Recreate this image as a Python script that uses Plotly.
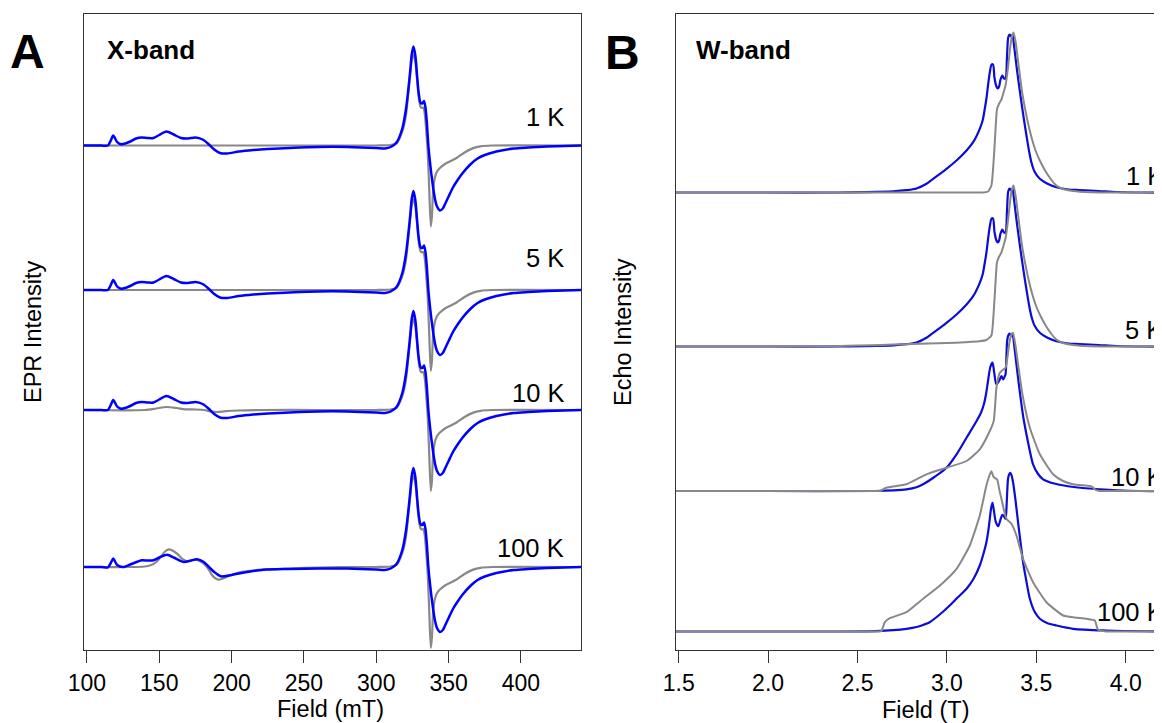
import plotly.graph_objects as go

W, H = 1162, 723
FONT = "Liberation Sans, Arial, Helvetica, sans-serif"
PAGE_OFFSET = 8  # browser body margin

TEMPS = ["1 K", "5 K", "10 K", "100 K"]

# ---------------- Panel A: X-band (field in mT, intensity a.u.) ----------------
XB_OFFSETS = [504.5, 360, 240, 83]

# experimental, low-field part (1 K, 5 K, 10 K)
XEXP_LO_FIELD = [98, 100, 110, 114.5, 116.5, 118.2, 120.9, 123, 125, 130, 134, 138, 142, 146, 150, 155, 160,
                 165, 170, 175, 180, 184, 188, 192, 197, 205, 215, 225, 240, 260, 280, 300, 306]
XEXP_LO_INT = [0, 0, 0, 0, 5, 10, 3.5, 1.5, 1.5, 4, 7, 8, 7.5, 7.5, 10.5, 14, 11,
               7.5, 7, 8, 6, 1.5, -4, -7.5, -8, -6, -4.5, -3.5, -2.5, -1.5, -1.5, -2.5, -3]
# experimental, low-field part (100 K)
XEXP100_LO_FIELD = [98, 110, 114.5, 116.5, 118.2, 120.9, 125, 130, 138, 142, 146, 150, 155.4, 160, 164, 167,
                    172, 176.2, 180.8, 184, 188, 192.6, 198, 204, 215, 222, 240, 260, 280, 300, 306]
XEXP100_LO_INT = [0, 0, -0.5, 4, 8.4, 2, 0, 2.5, 6.7, 6.5, 6.7, 9.5, 12.3, 9.5, 6.5, 5,
                  6.5, 7.7, 5, 0.5, -5, -9.3, -8.5, -6.7, -4, -2.7, -2, -1.5, -1.5, -2.5, -3]
# experimental, g~2 region (all temperatures)
XEXP_HI_FIELD = [310, 314, 318, 320.5, 322, 323.5, 324.5, 325.7, 327, 328.2, 329.2, 330.5, 331.8, 333, 334,
                 335, 336, 337, 338.1, 340.5, 342, 344, 346, 347.4, 350, 353, 356, 360, 365, 370, 375, 383,
                 395, 405, 418, 430, 441.5]
XEXP_HI_INT = [-1.5, 3, 17, 36, 54, 75, 91, 99, 90, 70, 54, 43, 42, 44.5, 38,
               22, 0, -15, -29, -53, -61, -65, -63, -59, -51, -42, -35, -27, -19, -13, -9.5, -6,
               -3, -2, -1, -0.5, 0]

# simulation, low-field parts
XSIM_FLAT_LO_FIELD = [98, 200, 290]
XSIM_FLAT_LO_INT = [0, 0, 0]
XSIM10_LO_FIELD = [98, 140, 148, 155, 162, 168, 175, 181, 186, 190, 196, 205, 222, 260, 290]
XSIM10_LO_INT = [0, 0, 1.5, 3, 2, 0.7, 0.5, 0, -1.5, -2, -1.2, -0.5, 0, 0, 0]
XSIM100_LO_FIELD = [98, 130, 140, 144, 148, 151, 154, 156.6, 159, 162.3, 166, 169.3, 172, 175, 178, 180.8,
                    184, 186.6, 189, 191.2, 194, 199.3, 205, 215, 222, 240, 260, 290]
XSIM100_LO_INT = [0, 0, 0.5, 1.7, 5, 10, 15.5, 17.6, 16.5, 13.3, 8, 5.7, 6.5, 7.7, 6, 3.3,
                  -2, -8.3, -11.5, -12.7, -11.5, -8.3, -5.5, -3.5, -2.7, -1.5, -0.5, 0]
# simulation, g~2 region
XSIM_HI_FIELD = [300, 310, 314, 318, 320.5, 322, 323.5, 324.5, 325.7, 327, 328.2, 329.2, 330.5, 331.5, 332.5,
                 333.5, 334.5, 335.5, 336.5, 337.7, 338.5, 339.3, 340.5, 342, 344, 348, 355.5, 361, 367, 372,
                 380, 441.5]
XSIM_HI_INT = [0, 0.5, 2, 14, 30, 50, 72, 85, 91, 84, 66, 50, 39, 37.5, 38,
               32, 15, -5, -40, -81, -70, -45, -32, -26, -22.5, -18, -12.5, -7, -2.6, -0.8,
               0, 0]

XEXP_LO = [(XEXP_LO_FIELD, XEXP_LO_INT)] * 3 + [(XEXP100_LO_FIELD, XEXP100_LO_INT)]
XSIM_LO = [(XSIM_FLAT_LO_FIELD, XSIM_FLAT_LO_INT)] * 2 + [(XSIM10_LO_FIELD, XSIM10_LO_INT),
                                                          (XSIM100_LO_FIELD, XSIM100_LO_INT)]

# ---------------- Panel B: W-band (field in T, echo intensity a.u.) ----------------
WB_OFFSETS = [457.5, 303.5, 159, 18.5]

WEXP1_FIELD = [1.485, 2.0, 2.4, 2.55, 2.7, 2.774, 2.83, 2.886, 2.923, 2.961, 2.998, 3.054, 3.110, 3.147, 3.184,
               3.200, 3.212, 3.222, 3.230, 3.240, 3.250, 3.258, 3.266, 3.277, 3.285, 3.292, 3.300, 3.310, 3.320,
               3.328, 3.336, 3.343, 3.350, 3.360, 3.367, 3.375, 3.389, 3.403, 3.417, 3.431, 3.445, 3.459, 3.473,
               3.49, 3.52, 3.56, 3.613, 3.68, 3.743, 3.85, 3.95, 4.1, 4.25]
WEXP1_INT = [0, 0, 0, 0.4, 1.2, 2.3, 4, 8.7, 13.7, 18.7, 23.7, 32, 42, 50.3, 63.7,
             72, 83.7, 95, 107, 120, 128, 128, 115, 106, 104, 106, 113, 117, 114,
             114, 135, 155, 158, 156, 158, 148, 127, 108, 90, 73, 57, 42, 30,
             21, 13.7, 9, 5.3, 3, 2.5, 1.5, 0.5, 0, 0]

WSIM1_FIELD = [1.485, 2.5, 3.0, 3.15, 3.20, 3.23, 3.249, 3.262, 3.273, 3.280, 3.292, 3.305, 3.317, 3.329, 3.340,
               3.351, 3.362, 3.373, 3.385, 3.397, 3.409, 3.421, 3.437, 3.453, 3.475, 3.5, 3.528, 3.556, 3.585,
               3.612, 3.65, 3.705, 3.8, 4.0, 4.25]
WSIM1_INT = [0, 0, 0, 0, 0, 1, 7, 33, 66, 83, 89, 93, 100, 108, 122,
             140, 155, 160, 150, 133, 116, 100, 84, 70, 54, 40, 29, 20, 12.5,
             7, 3.5, 1.5, 0.3, 0, 0]

WSIM5_FIELD = [1.485, 2.2, 2.4, 2.6, 2.8, 3.0, 3.1, 3.18, 3.221, 3.249, 3.262, 3.273, 3.280, 3.292, 3.305, 3.317,
               3.329, 3.340, 3.351, 3.362, 3.373, 3.385, 3.397, 3.409, 3.421, 3.437, 3.453, 3.475, 3.5, 3.528,
               3.556, 3.585, 3.612, 3.65, 3.705, 3.8, 4.0, 4.25]
WSIM5_INT = [0, 0, 0.5, 1.3, 2.5, 3.5, 4.3, 5.2, 6.5, 11, 35, 67, 84, 90, 94, 101,
             109, 123, 141, 156, 161, 150, 133, 116, 100, 84, 70, 54, 40, 29,
             20, 12.5, 7, 3.5, 1.5, 0.3, 0, 0]

WEXP10_FIELD = [1.485, 2.0, 2.6, 2.70, 2.774, 2.83, 2.867, 2.93, 2.998, 3.054, 3.110, 3.166, 3.190, 3.207, 3.220,
                3.230, 3.243, 3.255, 3.265, 3.277, 3.292, 3.305, 3.314, 3.322, 3.328, 3.337, 3.344, 3.351, 3.359,
                3.367, 3.377, 3.389, 3.403, 3.417, 3.431, 3.445, 3.464, 3.482, 3.51, 3.538, 3.6, 3.669, 3.76,
                3.855, 3.95, 4.078, 4.25]
WEXP10_INT = [0, 0, 0, 0.6, 1.7, 3.8, 6.7, 14, 23.3, 36.7, 53.3, 70, 78, 86.7, 98,
              110, 124, 128.3, 118, 106.7, 110, 115, 111.7, 114, 116.7, 150, 156, 157.3, 155,
              156.7, 145, 126.7, 106, 86.7, 70, 56.7, 40, 26.7, 17, 11.7, 7.5, 5, 3,
              1.7, 0.7, 0, 0]

WSIM10_FIELD = [1.485, 2.0, 2.5, 2.615, 2.63, 2.661, 2.774, 2.886, 2.998, 3.110, 3.184, 3.240, 3.262, 3.277, 3.296,
                3.312, 3.328, 3.340, 3.351, 3.362, 3.370, 3.384, 3.398, 3.426, 3.464, 3.520, 3.594, 3.650, 3.706,
                3.799, 3.815, 3.827, 3.855, 3.9, 4.0, 4.25]
WSIM10_INT = [0, 0, 0, 0, 0.3, 3.3, 6.7, 16.7, 23.3, 30, 41.7, 60, 70, 103, 118.3,
              121, 123.3, 135, 150, 157, 158.3, 145, 126.7, 93.3, 63.3, 36.7, 16.7, 10, 6.7,
              5, 4, 1.7, 0, 0, 0, 0]

WEXP100_FIELD = [1.485, 2.4, 2.6, 2.70, 2.774, 2.83, 2.87, 2.904, 2.96, 3.016, 3.06, 3.110, 3.15, 3.184, 3.205,
                 3.221, 3.232, 3.240, 3.248, 3.255, 3.262, 3.274, 3.287, 3.300, 3.311, 3.320, 3.328, 3.335,
                 3.342, 3.348, 3.355, 3.362, 3.370, 3.384, 3.398, 3.412, 3.426, 3.445, 3.464, 3.49, 3.520, 3.56,
                 3.613, 3.706, 3.892, 4.25]
WEXP100_INT = [0, 0, 0.4, 1.3, 2.7, 4.5, 6.8, 9.3, 17, 26, 34, 42.7, 53, 66, 78,
               89.3, 101, 112.7, 124, 128.7, 122, 109.3, 105.3, 112, 116.7, 115, 112.7, 130,
               152.7, 157, 158.7, 156, 149.3, 131, 109.3, 89, 69.3, 50, 32.7, 20, 12.7, 8.5,
               6, 2.7, 1, 0]

WSIM100_FIELD = [1.485, 2.0, 2.5, 2.62, 2.634, 2.653, 2.681, 2.774, 2.867, 2.961, 3.054, 3.128, 3.184, 3.221,
                 3.240, 3.249, 3.256, 3.262, 3.281, 3.293, 3.305, 3.333, 3.361, 3.389, 3.426, 3.482, 3.557, 3.650,
                 3.715, 3.780, 3.827, 3.845, 3.892, 4.0, 4.25]
WSIM100_INT = [0, 0, 0, 0, 0.5, 9.3, 13.3, 19.3, 32.7, 46, 62.7, 86, 116, 146,
               157, 160.3, 157, 154.3, 152, 142, 132.7, 112.7, 107.7, 96, 72.7, 49.3, 29.3, 16,
               14, 12.7, 11, 2, 0, 0, 0]

WEXP = [(WEXP1_FIELD, WEXP1_INT), (WEXP1_FIELD, WEXP1_INT), (WEXP10_FIELD, WEXP10_INT),
        (WEXP100_FIELD, WEXP100_INT)]
WSIM = [(WSIM1_FIELD, WSIM1_INT), (WSIM5_FIELD, WSIM5_INT), (WSIM10_FIELD, WSIM10_INT),
        (WSIM100_FIELD, WSIM100_INT)]

XB_TICKS = [100, 150, 200, 250, 300, 350, 400]
WB_TICKS = [1.5, 2.0, 2.5, 3.0, 3.5, 4.0]

BLUE_X = "#0000ff"
BLUE_W = "#0c0cd6"
GRAY = "#888888"

# ---------------- figure ----------------
fig = go.Figure()

for i in range(4):
    off = XB_OFFSETS[i]
    sf = XSIM_LO[i][0] + XSIM_HI_FIELD
    si = XSIM_LO[i][1] + XSIM_HI_INT
    fig.add_trace(go.Scatter(x=sf, y=[v + off for v in si], mode="lines",
                             line=dict(color=GRAY, width=2.2, shape="spline", smoothing=0.7),
                             xaxis="x", yaxis="y", hoverinfo="skip"))
    ef = XEXP_LO[i][0] + XEXP_HI_FIELD
    ei = XEXP_LO[i][1] + XEXP_HI_INT
    fig.add_trace(go.Scatter(x=ef, y=[v + off for v in ei], mode="lines",
                             line=dict(color=BLUE_X, width=2.5, shape="spline", smoothing=0.7),
                             xaxis="x", yaxis="y", hoverinfo="skip"))

for i in range(4):
    off = WB_OFFSETS[i]
    fig.add_trace(go.Scatter(x=WEXP[i][0], y=[v + off for v in WEXP[i][1]], mode="lines",
                             line=dict(color=BLUE_W, width=2.2, shape="spline", smoothing=0.8),
                             xaxis="x2", yaxis="y2", hoverinfo="skip"))
    fig.add_trace(go.Scatter(x=WSIM[i][0], y=[v + off for v in WSIM[i][1]], mode="lines",
                             line=dict(color=GRAY, width=2, shape="spline", smoothing=0.5),
                             xaxis="x2", yaxis="y2", hoverinfo="skip"))


def px(x):
    """screen x pixel -> paper fraction"""
    return (x - PAGE_OFFSET) / W


def py(y):
    """screen y pixel -> paper fraction"""
    return 1 - (y - PAGE_OFFSET) / H


AX_COL = "#333333"
ydom = [py(650), py(14)]
axis_common = dict(showgrid=False, zeroline=False, showline=True, linecolor=AX_COL, linewidth=1.2,
                   ticks="outside", ticklen=12, tickwidth=1.2, tickcolor=AX_COL, automargin=False,
                   tickfont=dict(family=FONT, size=23, color="black"))
yaxis_common = dict(showline=True, linecolor=AX_COL, linewidth=1.2, showticklabels=False, ticks="",
                    showgrid=False, zeroline=False, automargin=False, range=[0, 636], domain=ydom)

B_LEFT = 676
B_RANGE_LEFT = 1.485
B_PX_PER_T = 178.8
b_range_right = B_RANGE_LEFT + (W + PAGE_OFFSET - B_LEFT) / B_PX_PER_T

fig.update_layout(
    width=W, height=H,
    margin=dict(l=0, r=0, t=0, b=0, autoexpand=False),
    paper_bgcolor="white", plot_bgcolor="white",
    showlegend=False,
    xaxis=dict(domain=[px(84), px(581)], range=[98, 441.5], tickvals=XB_TICKS, mirror=True,
               anchor="y", **axis_common),
    yaxis=dict(mirror=True, anchor="x", **yaxis_common),
    xaxis2=dict(domain=[px(B_LEFT), 1.0], range=[B_RANGE_LEFT, b_range_right], tickvals=WB_TICKS,
                ticktext=[f"{v:.1f}" for v in WB_TICKS], mirror=True, anchor="y2", **axis_common),
    yaxis2=dict(mirror=False, anchor="x2", **yaxis_common),
)

ann = []


def add_text(text, x, y, size, xanchor="center", bold=False, angle=0):
    ann.append(dict(text=f"<b>{text}</b>" if bold else text, x=px(x), y=py(y), xref="paper", yref="paper",
                    xanchor=xanchor, yanchor="middle", showarrow=False, textangle=angle,
                    font=dict(family=FONT, size=size, color="black")))


add_text("A", 27, 51, 48, bold=True)
add_text("B", 622, 52, 48, bold=True)
add_text("X-band", 105, 50, 26, xanchor="left", bold=True)
add_text("W-band", 694, 50, 26, xanchor="left", bold=True)
add_text("EPR Intensity", 33, 332, 23.5, angle=-90)
add_text("Echo Intensity", 623, 332, 23.5, angle=-90)
add_text("Field (mT)", 330, 709, 23.5)
add_text("Field (T)", 925, 710, 23.5)

A_LABEL_Y = [117, 257.5, 392.5, 547.5]
B_LABEL_X = [1124, 1123, 1109, 1095]
B_LABEL_Y = [176, 330, 476.7, 611.7]
for i, t in enumerate(TEMPS):
    add_text(t, 566, A_LABEL_Y[i], 25.5, xanchor="right")
    add_text(t, B_LABEL_X[i], B_LABEL_Y[i], 25.5, xanchor="left")

fig.update_layout(annotations=ann)
fig.write_html("out.html")
